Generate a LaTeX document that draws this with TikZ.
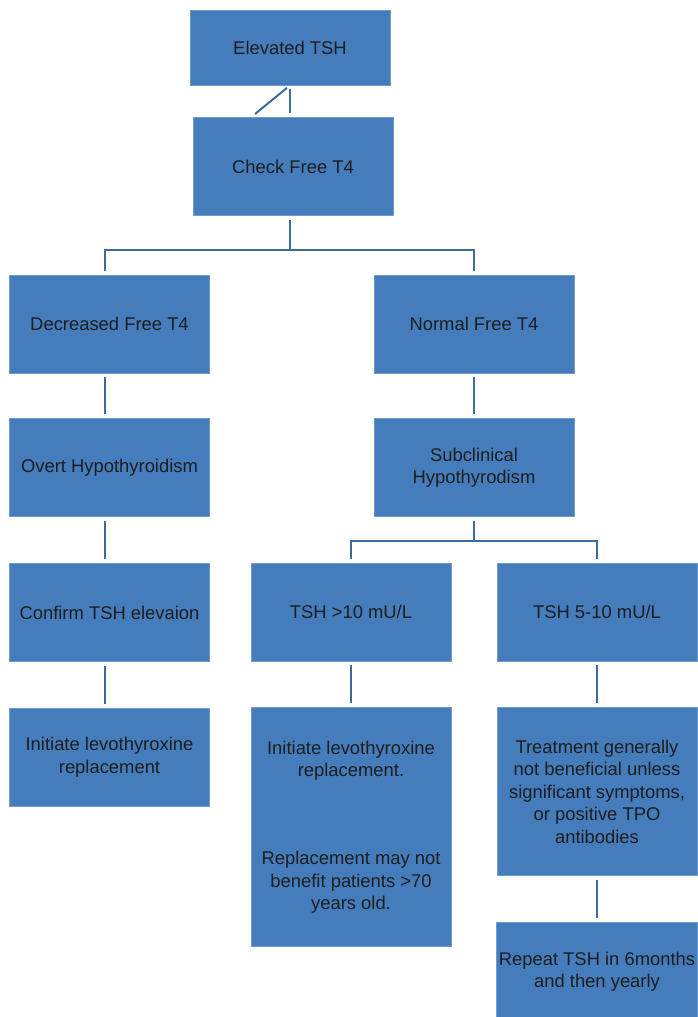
\documentclass[tikz,border=0pt]{standalone}
\usepackage{fontspec}
\setmainfont{Liberation Sans}
\usepackage{xcolor}
\usetikzlibrary{positioning}
\definecolor{boxblue}{HTML}{447CBC}
\definecolor{boxedge}{HTML}{6E9BD0}
\definecolor{linkblue}{HTML}{3B6C9E}
\definecolor{inkgray}{HTML}{1E1E1E}

\begin{document}
\begin{tikzpicture}[
    x=0.75pt, y=-0.75pt,
    box/.style={draw=boxedge, line width=0.6pt, fill=boxblue, text=inkgray,
                minimum width=150pt, minimum height=73.5pt, align=center,
                inner sep=2pt, font=\fontsize{13.8}{16.9}\selectfont},
    link/.style={draw=linkblue, line width=1.5pt},
    gap/.style={shorten <=3pt, shorten >=3pt}
]
    \useasboundingbox (0,0) rectangle (697,1017);

    \node[box, minimum height=56.25pt] (elev) at (290,47.5) {Elevated TSH};
    \node[box, below=24pt of elev, xshift=2.25pt] (check) {Check Free T4};

    \node[box] (dec) at (109.5,324) {Decreased Free T4};
    \node[box] (norm) at (474,324) {Normal Free T4};
    \node[box, below=33.75pt of dec] (overt) {Overt Hypothyroidism};
    \node[box, below=33.75pt of norm] (subc) {Subclinical\\Hypothyrodism};
    \node[box, below=34.5pt of overt] (confirm) {Confirm TSH elevaion};
    \node[box] (tshhigh) at (351,612) {TSH >10 mU/L};
    \node[box] (tshmid) at (597,612) {TSH 5-10 mU/L};

    \node[box, below=34.5pt of confirm] (initleft) {Initiate levothyroxine\\replacement};
    \node[box, below=34.5pt of tshhigh, minimum height=179.25pt] (initright)
        {Initiate levothyroxine\\replacement.\\[49pt]Replacement may not\\benefit patients >70\\years old.};
    \node[box, below=34.5pt of tshmid, minimum height=126pt] (treat)
        {Treatment generally\\not beneficial unless\\significant symptoms,\\or positive TPO\\antibodies};
    \node[box, below=34.5pt of treat] (repeattsh) {Repeat TSH in 6months\\and then yearly};

    \coordinate (kink) at (255,114);
    \coordinate (split1) at (290,250);
    \coordinate (split2) at (474,541);
    \coordinate (leftcol) at (105,0);

    \draw[link, gap] (elev.south) -- (elev.south |- check.north);
    \draw[link, shorten <=3pt] (elev.south) -- (kink);
    \draw[link, shorten <=3pt] (check.south -| split1) -- (split1);
    \draw[link, gap] (dec.north -| leftcol) |- (split1) -| (norm.north);
    \draw[link, gap] (dec.south -| leftcol) -- (overt.north -| leftcol);
    \draw[link, gap] (norm) -- (subc);
    \draw[link, gap] (overt.south -| leftcol) -- (confirm.north -| leftcol);
    \draw[link, shorten <=3pt] (subc.south) -- (split2);
    \draw[link, gap] (tshhigh.north) |- (split2) -| (tshmid.north);
    \draw[link, gap] (confirm.south -| leftcol) -- (initleft.north -| leftcol);
    \draw[link, gap] (tshhigh) -- (initright);
    \draw[link, gap] (tshmid) -- (treat);
    \draw[link, gap] (treat) -- (repeattsh);
\end{tikzpicture}
\end{document}
